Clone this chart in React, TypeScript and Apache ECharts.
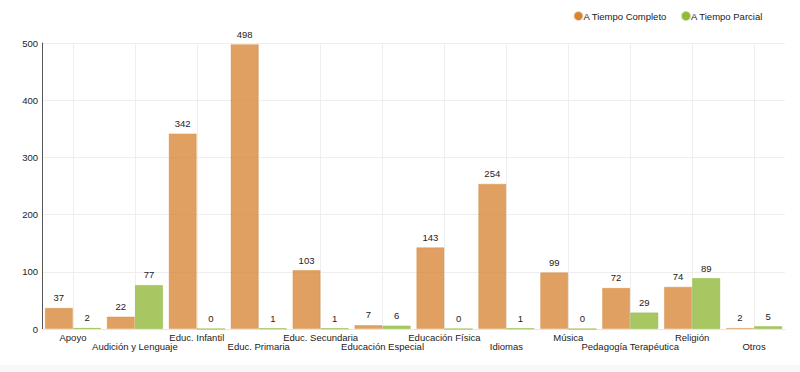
import React, { useEffect, useRef } from "react";
import * as echarts from "echarts";

const categories = [
  "Apoyo",
  "Audición y Lenguaje",
  "Educ. Infantil",
  "Educ. Primaria",
  "Educ. Secundaria",
  "Educación Especial",
  "Educación Física",
  "Idiomas",
  "Música",
  "Pedagogía Terapéutica",
  "Religión",
  "Otros",
];
const tiempoCompleto = [37, 22, 342, 498, 103, 7, 143, 254, 99, 72, 74, 2];
const tiempoParcial = [2, 77, 0, 1, 1, 6, 0, 1, 0, 29, 89, 5];
const seriesNames = ["A Tiempo Completo", "A Tiempo Parcial"];

const FONT = "'Liberation Sans', Arial, sans-serif";
const FS = 9;

export default function App() {
  const ref = useRef<HTMLDivElement>(null);
  useEffect(() => {
    document.body.style.margin = "0";
    const chart = echarts.init(ref.current!, null, { renderer: "svg" });
    const labelStyle = {
      show: true,
      position: "top",
      color: "#222",
      fontSize: FS + 0.5,
      fontFamily: FONT,
    };
    chart.setOption({
      animation: false,
      textStyle: { fontFamily: FONT },
      legend: {
        top: 6,
        right: 32,
        icon: "circle",
        itemWidth: 8,
        itemHeight: 8,
        itemGap: 14,
        textStyle: { fontSize: FS + 0.5, color: "#222", fontFamily: FONT, padding: [0, 0, 0, -4] },
        data: [
          { name: seriesNames[0], itemStyle: { color: "#d8852f", opacity: 1 } },
          { name: seriesNames[1], itemStyle: { color: "#92bb35", opacity: 1 } },
        ],
      },
      grid: { left: 42, right: 15, top: 43, bottom: 36 },
      xAxis: {
        type: "category",
        data: categories,
        axisLine: { show: true, lineStyle: { color: "#e6e6e6" } },
        axisTick: { show: false },
        splitLine: { show: true, alignWithLabel: true, lineStyle: { color: "#eeeeee" } },
        axisLabel: {
          interval: 0,
          color: "#222",
          fontSize: FS + 0.5,
          fontFamily: FONT,
          margin: 4,
          lineHeight: 9,
          formatter: (v: string, i: number) => (i % 2 === 1 ? "\n" + v : v),
        },
      },
      yAxis: {
        type: "value",
        min: 0,
        max: 500,
        interval: 100,
        axisLine: { show: true, lineStyle: { color: "#555" } },
        axisTick: { show: false },
        splitLine: { lineStyle: { color: "#eeeeee" } },
        axisLabel: { color: "#222", fontSize: FS + 0.5, fontFamily: FONT, margin: 4 },
      },
      series: [
        {
          name: seriesNames[0],
          type: "bar",
          data: tiempoCompleto,
          barGap: "0%",
          barCategoryGap: "9%",
          itemStyle: { color: "rgba(212,128,44,0.75)", borderColor: "rgba(212,128,44,0.35)", borderWidth: 1 },
          label: labelStyle,
        },
        {
          name: seriesNames[1],
          type: "bar",
          data: tiempoParcial,
          itemStyle: { color: "rgba(140,182,50,0.76)", borderColor: "rgba(140,182,50,0.5)", borderWidth: 1 },
          label: labelStyle,
        },
      ],
    });
    return () => chart.dispose();
  }, []);
  return (
    <div style={{ width: 800, height: 372, background: "#f8f8f8" }}>
      <div ref={ref} style={{ width: 800, height: 365, background: "#fff" }} />
    </div>
  );
}
